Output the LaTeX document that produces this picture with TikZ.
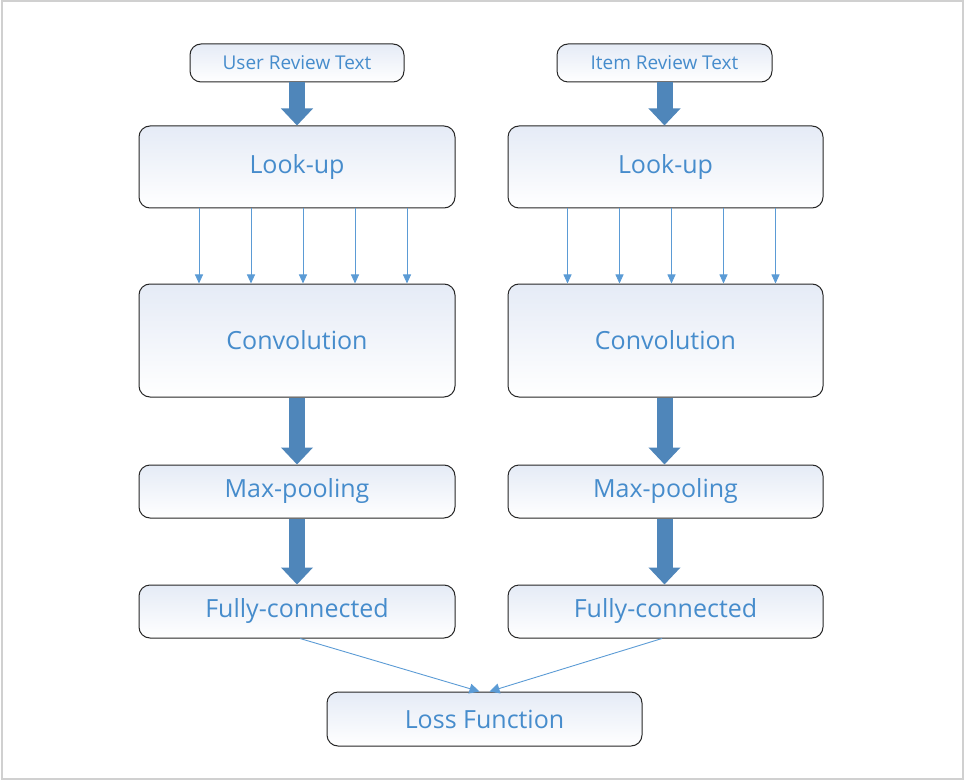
\documentclass[tikz,border=0pt]{standalone}
\usepackage{fontspec}
\setmainfont{Open Sans}
\usetikzlibrary{arrows.meta}
\definecolor{txt}{RGB}{70,140,204}
\definecolor{thickc}{RGB}{79,134,186}
\definecolor{thinc}{RGB}{91,155,213}
\definecolor{topc}{RGB}{229,235,246}
\definecolor{framec}{RGB}{208,208,208}
\begin{document}
\begin{tikzpicture}[x=1pt,y=-1pt,
  box/.style={draw=black!85, line width=1pt, rounded corners=11pt, top color=topc, bottom color=white, text=txt, inner sep=0pt},
  big/.style={font=\fontsize{25}{28}\selectfont, yshift=0pt},
  small/.style={font=\fontsize{19}{22}\selectfont},
  fat/.style={draw=thickc, line width=16pt, -{Triangle[width=31pt,length=17pt,fill=thickc]}},
  slim/.style={draw=thinc, line width=0.9pt, -{Triangle[width=8pt,length=9pt,fill=thinc]}},
  conv/.style={draw=thinc, line width=0.9pt, -{Triangle[width=10pt,length=10pt,fill=thinc]}}]
\useasboundingbox (0,0) rectangle (965,783);
\draw[framec, line width=2pt] (1.5,1.5) rectangle (963,778.5);
% top inputs
\node[box,small,minimum width=214pt,minimum height=38pt] (u) at (297,63) {User Review Text};
\node[box,small,minimum width=215pt,minimum height=38pt] (i) at (664.5,63) {Item Review Text};
% look-up
\node[box,big,minimum width=316pt,minimum height=82pt] (lu) at (297,167) {Look-up};
\node[box,big,minimum width=315pt,minimum height=82pt] (li) at (665.5,167) {Look-up};
% convolution
\node[box,big,minimum width=316pt,minimum height=113pt] (cu) at (297,340.5) {Convolution};
\node[box,big,minimum width=315pt,minimum height=113pt] (ci) at (665.5,340.5) {Convolution};
% max-pooling
\node[box,big,minimum width=316pt,minimum height=53pt] (mu) at (297,491.5) {Max-pooling};
\node[box,big,minimum width=315pt,minimum height=53pt] (mi) at (665.5,491.5) {Max-pooling};
% fully-connected
\node[box,big,minimum width=316pt,minimum height=53pt] (fu) at (297,611.5) {Fully-connected};
\node[box,big,minimum width=315pt,minimum height=53pt] (fi) at (665.5,611.5) {Fully-connected};
% loss
\node[box,big,minimum width=315pt,minimum height=54pt] (loss) at (484.5,719) {Loss Function};
% fat arrows
\draw[fat] (u.south) -- (lu.north);
\draw[fat] (i.south) -- ([xshift=-1pt]li.north);
\draw[fat] (cu.south) -- (mu.north);
\draw[fat] ([xshift=-1pt]ci.south) -- ([xshift=-1pt]mi.north);
\draw[fat] (mu.south) -- (fu.north);
\draw[fat] ([xshift=-1pt]mi.south) -- ([xshift=-1pt]fi.north);
% thin arrows
\foreach \d in {-98,-46,6,58,110}{
  \draw[slim] ([xshift=\d pt]lu.south) -- ([xshift=\d pt]cu.north);
  \draw[slim] ([xshift=\d pt]li.south) -- ([xshift=\d pt]ci.north);
}
% converging arrows
\draw[conv] ([xshift=3pt]fu.south) -- ([xshift=-5pt]loss.north);
\draw[conv] ([xshift=-3.5pt]fi.south) -- ([xshift=5pt]loss.north);
\end{tikzpicture}
\end{document}
